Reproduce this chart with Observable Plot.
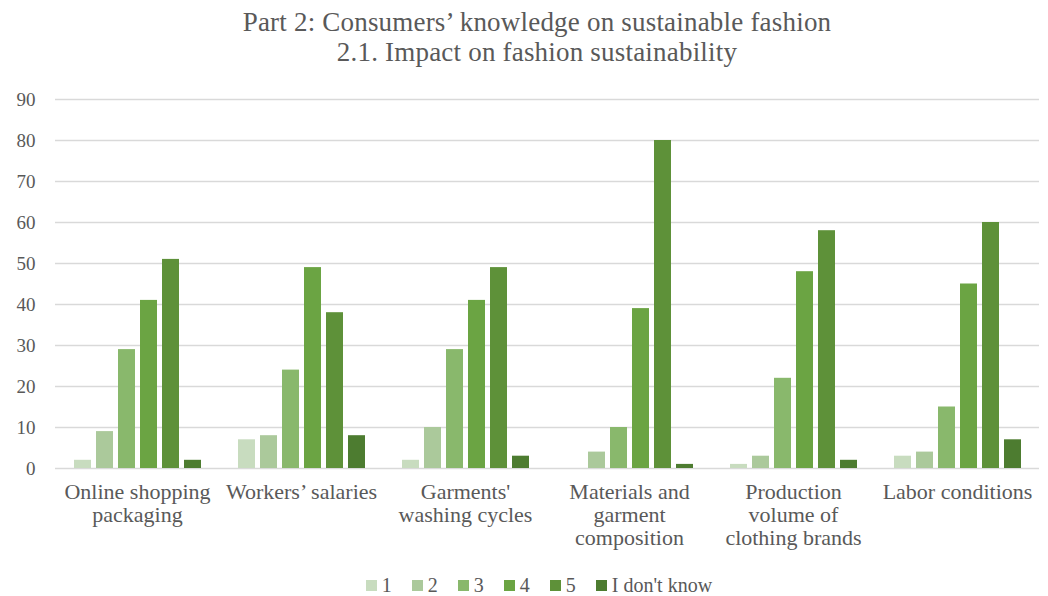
<!DOCTYPE html>
<html>
<head>
<meta charset="utf-8">
<script src="https://cdn.jsdelivr.net/npm/d3@7"></script>
<script src="https://cdn.jsdelivr.net/npm/@observablehq/plot@0.6"></script>
<style>
  html, body { margin: 0; padding: 0; background: #fff; }
  body { width: 1048px; height: 596px; overflow: hidden; font-family: "Liberation Serif", "DejaVu Serif", serif; color: #595959; }
  #title { text-align: center; font-size: 27px; letter-spacing: 0.2px; line-height: 30px; padding-top: 7px; height: 70px; box-sizing: border-box; padding-left: 26px; }
  #chart svg { display: block; }
  #legend { display: flex; justify-content: center; gap: 20px; font-size: 20px; margin-top: 16px; padding-left: 30px; }
  .item { display: flex; align-items: center; gap: 5px; }
  .sw { width: 11px; height: 11px; display: inline-block; }
</style>
</head>
<body>
<div id="title">Part 2: Consumers’ knowledge on sustainable fashion<br>2.1. Impact on fashion sustainability</div>
<div id="chart"></div>
<div id="legend"></div>
<script>
const categories = [
  "Online shopping\npackaging",
  "Workers’ salaries",
  "Garments'\nwashing cycles",
  "Materials and\ngarment\ncomposition",
  "Production\nvolume of\nclothing brands",
  "Labor conditions"
];
const seriesNames = ["1", "2", "3", "4", "5", "I don't know"];
const seriesColors = ["#c8dcbf", "#abc99b", "#89b86c", "#6ba443", "#5e9139", "#4d7c30"];
const s1 = [2, 7, 2, 0, 1, 3];
const s2 = [9, 8, 10, 4, 3, 4];
const s3 = [29, 24, 29, 10, 22, 15];
const s4 = [41, 49, 41, 39, 48, 45];
const s5 = [51, 38, 49, 80, 58, 60];
const sDK = [2, 8, 3, 1, 2, 7];
const yTicks = [0, 10, 20, 30, 40, 50, 60, 70, 80, 90];

const seriesValues = [s1, s2, s3, s4, s5, sDK];
const data = [];
categories.forEach((c, i) => {
  seriesNames.forEach((s, j) => {
    data.push({category: c, series: s, value: seriesValues[j][i]});
  });
});

const chart = Plot.plot({
  width: 1048,
  height: 488,
  marginLeft: 55,
  marginRight: 9,
  marginTop: 29,
  marginBottom: 90,
  style: {fontFamily: "'Liberation Serif', 'DejaVu Serif', serif", fontSize: "19px", color: "#595959", background: "#fff"},
  fx: {domain: categories, paddingInner: 0, paddingOuter: 0, label: null, axis: null},
  x: {domain: seriesNames, paddingInner: 0.23, paddingOuter: 0.84, axis: null},
  y: {domain: [0, 90], ticks: yTicks, label: null},
  color: {domain: seriesNames, range: seriesColors},
  marks: [
    Plot.gridY(yTicks, {stroke: "#d9d9d9", strokeOpacity: 1, strokeWidth: 1.5, facet: "exclude"}),
    Plot.axisY(yTicks, {tickSize: 0, tickPadding: 20, fontSize: 19, label: null, fill: "#595959"}),
    Plot.axisFx({anchor: "bottom", tickSize: 0, tickPadding: 14, fontSize: 22, label: null, lineHeight: 1.05, fill: "#595959", textOverflow: null}),
    Plot.barY(data, {fx: "category", x: "series", y: "value", fill: "series"})
  ]
});
document.getElementById("chart").appendChild(chart);

const legend = document.getElementById("legend");
seriesNames.forEach((s, j) => {
  const item = document.createElement("span");
  item.className = "item";
  const sw = document.createElement("span");
  sw.className = "sw";
  sw.style.background = seriesColors[j];
  item.appendChild(sw);
  item.appendChild(document.createTextNode(s));
  legend.appendChild(item);
});
</script>
</body>
</html>
